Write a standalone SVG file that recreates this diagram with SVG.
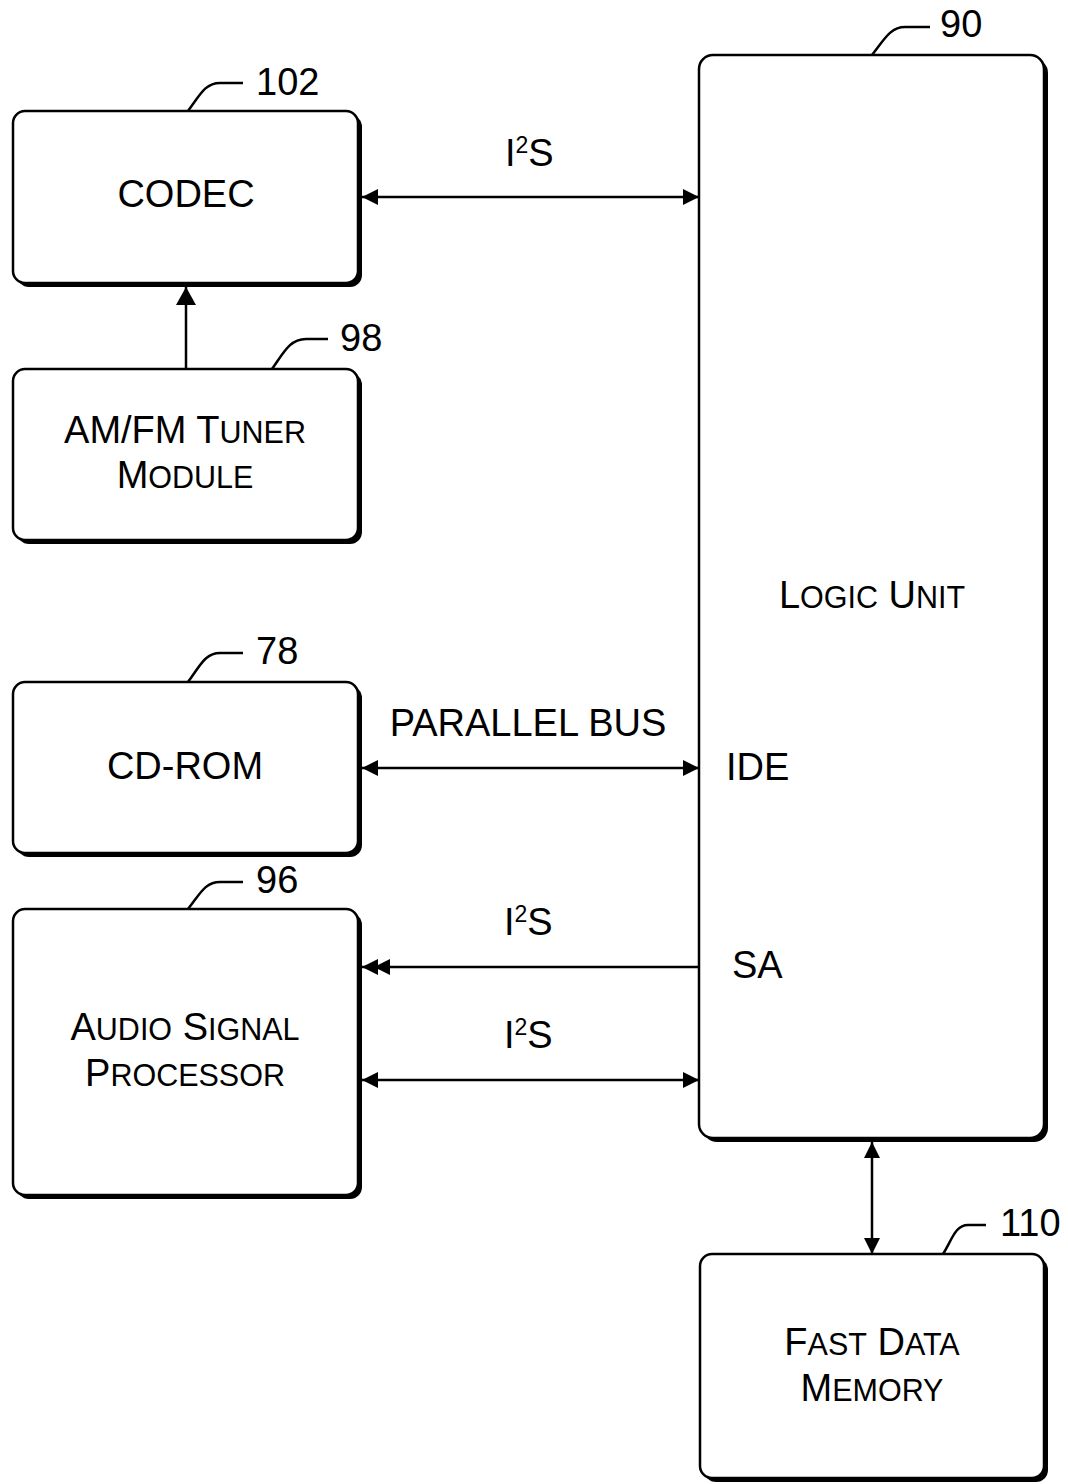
<svg xmlns="http://www.w3.org/2000/svg" width="1068" height="1484" viewBox="0 0 1068 1484">
<style>
.box{fill:#fff;stroke:#000;stroke-width:2.5}
.sh{fill:#000}
.t{font-family:"Liberation Sans",Arial,sans-serif;font-size:38px;fill:#000}
.c{text-anchor:middle}
.sm{font-size:30.5px}
.sup{font-size:23px}
.ln{stroke:#000;stroke-width:2.5;fill:none}
.ld{stroke:#000;stroke-width:2.5;fill:none}
</style>
<defs>
<marker id="ah" markerUnits="userSpaceOnUse" markerWidth="18" markerHeight="18" refX="16" refY="8" orient="auto-start-reverse" viewBox="0 0 18 18">
<path d="M0,0 L16,8 L0,16 z" fill="#000"/>
</marker>
<marker id="ah2" markerUnits="userSpaceOnUse" markerWidth="30" markerHeight="18" refX="28" refY="8" orient="auto" viewBox="0 0 30 18">
<path d="M12,0 L28,8 L12,16 z M0,0 L16,8 L0,16 z" fill="#000"/>
</marker>
<marker id="ahb" markerUnits="userSpaceOnUse" markerWidth="22" markerHeight="22" refX="18" refY="10" orient="auto" viewBox="0 0 22 22">
<path d="M0,0 L18,10 L0,20 z" fill="#000"/>
</marker>
</defs>

<g id="connectors">
<line class="ln" x1="362" y1="197" x2="699" y2="197" marker-start="url(#ah)" marker-end="url(#ah)"/>
<line class="ln" x1="186" y1="369" x2="186" y2="287" marker-end="url(#ahb)"/>
<line class="ln" x1="362" y1="768" x2="699" y2="768" marker-start="url(#ah)" marker-end="url(#ah)"/>
<line class="ln" x1="699" y1="967" x2="362" y2="967" marker-end="url(#ah2)"/>
<line class="ln" x1="362" y1="1080" x2="699" y2="1080" marker-start="url(#ah)" marker-end="url(#ah)"/>
<line class="ln" x1="872" y1="1142" x2="872" y2="1254" marker-start="url(#ah)" marker-end="url(#ah)"/>
<text class="t" x="505" y="166">I<tspan class="sup" dy="-13">2</tspan><tspan dy="13">S</tspan></text>
<text class="t c" x="528" y="736">PARALLEL BUS</text>
<text class="t" x="504" y="935">I<tspan class="sup" dy="-13">2</tspan><tspan dy="13">S</tspan></text>
<text class="t" x="504" y="1048">I<tspan class="sup" dy="-13">2</tspan><tspan dy="13">S</tspan></text>
</g>

<g id="codec">
<rect class="sh" x="17" y="115" width="345" height="172" rx="12"/>
<rect class="box" x="13" y="111" width="345" height="172" rx="12"/>
<text class="t c" x="186" y="207">CODEC</text>
<path class="ld" d="M188,111 C200,95 205,83 220,83 L243,83"/>
<text class="t" x="256" y="95">102</text>
</g>

<g id="tuner">
<rect class="sh" x="17" y="373" width="345" height="171" rx="12"/>
<rect class="box" x="13" y="369" width="345" height="171" rx="12"/>
<text class="t c" x="185" y="443">AM/FM T<tspan class="sm">UNER</tspan></text>
<text class="t c" x="185" y="488">M<tspan class="sm">ODULE</tspan></text>
<path class="ld" d="M272,369 C284,352 290,339 306,339 L328,339"/>
<text class="t" x="340" y="351">98</text>
</g>

<g id="cdrom">
<rect class="sh" x="17" y="686" width="345" height="171" rx="12"/>
<rect class="box" x="13" y="682" width="345" height="171" rx="12"/>
<text class="t c" x="185" y="779">CD-ROM</text>
<path class="ld" d="M188,682 C200,666 205,653 220,653 L243,653"/>
<text class="t" x="256" y="664">78</text>
</g>

<g id="asp">
<rect class="sh" x="17" y="913" width="345" height="286" rx="12"/>
<rect class="box" x="13" y="909" width="345" height="286" rx="12"/>
<text class="t c" x="185" y="1040">A<tspan class="sm">UDIO</tspan> S<tspan class="sm">IGNAL</tspan></text>
<text class="t c" x="185" y="1086">P<tspan class="sm">ROCESSOR</tspan></text>
<path class="ld" d="M188,909 C200,894 205,882 220,882 L243,882"/>
<text class="t" x="256" y="893">96</text>
</g>

<g id="logic">
<rect class="sh" x="703" y="59" width="345" height="1083" rx="14"/>
<rect class="box" x="699" y="55" width="345" height="1083" rx="14"/>
<text class="t c" x="872" y="608">L<tspan class="sm">OGIC</tspan> U<tspan class="sm">NIT</tspan></text>
<text class="t" x="726" y="780">IDE</text>
<text class="t" x="732" y="978">SA</text>
<path class="ld" d="M872,55 C884,40 890,27 905,27 L930,27"/>
<text class="t" x="940" y="37">90</text>
</g>

<g id="memory">
<rect class="sh" x="704" y="1258" width="344" height="224" rx="12"/>
<rect class="box" x="700" y="1254" width="344" height="224" rx="12"/>
<text class="t c" x="872" y="1355">F<tspan class="sm">AST</tspan> D<tspan class="sm">ATA</tspan></text>
<text class="t c" x="872" y="1401">M<tspan class="sm">EMORY</tspan></text>
<path class="ld" d="M943,1254 C952,1240 955,1225 968,1225 L986,1225"/>
<text class="t" x="1000" y="1236">110</text>
</g>
</svg>
